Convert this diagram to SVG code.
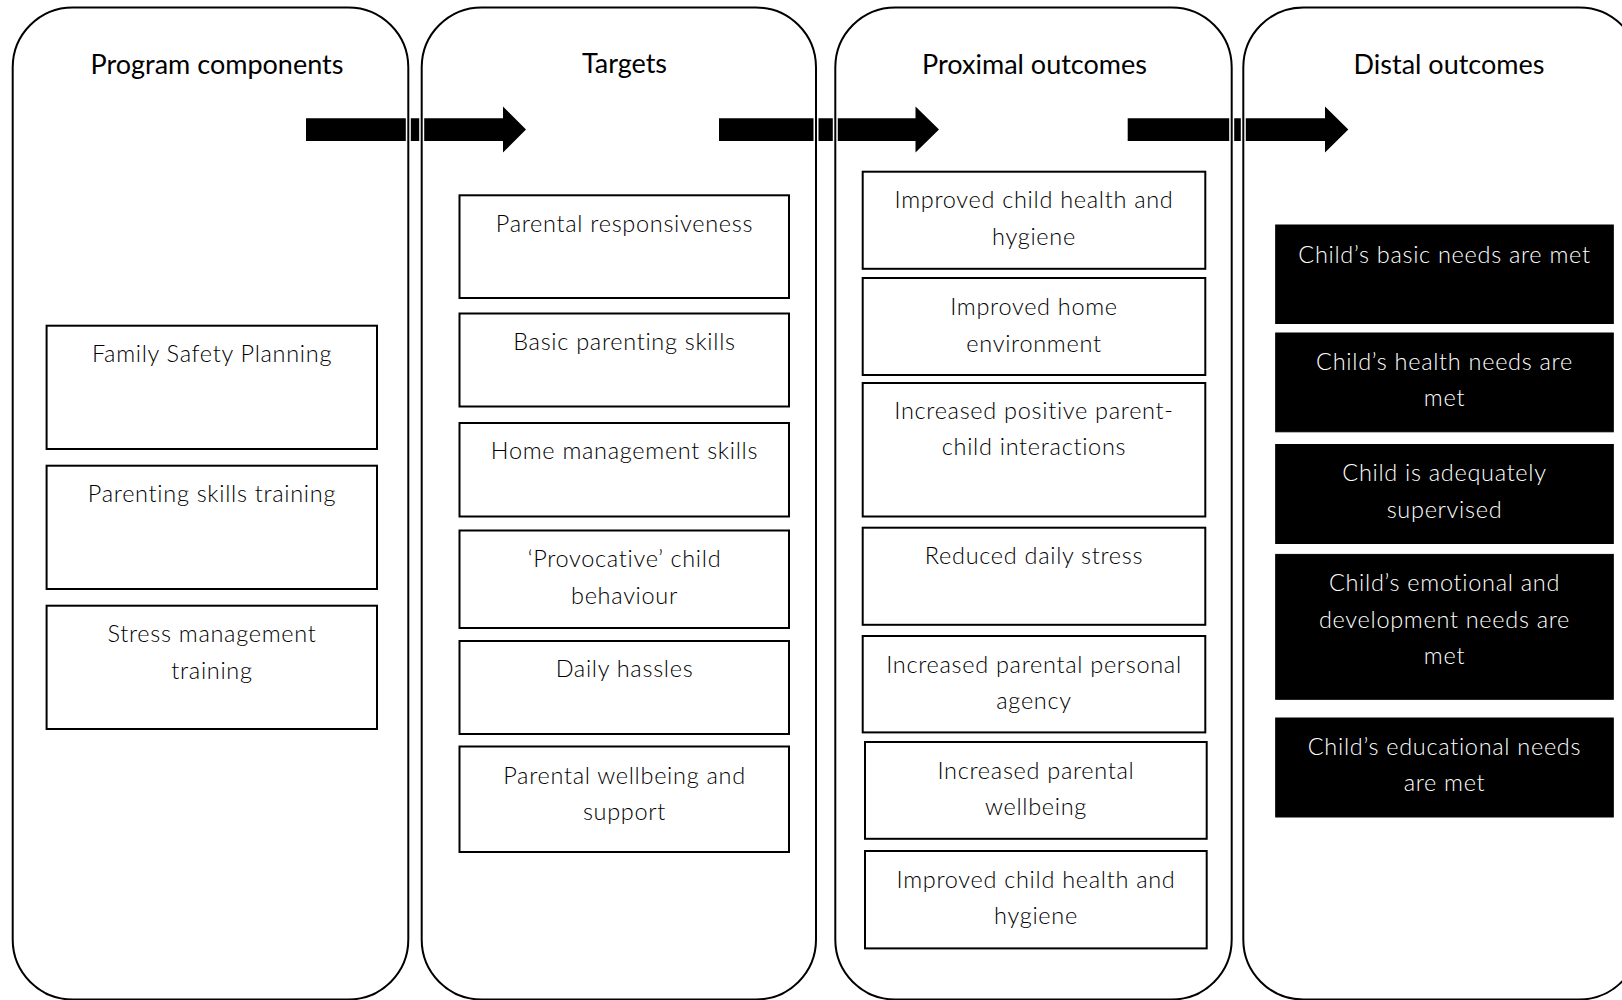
<svg xmlns="http://www.w3.org/2000/svg" width="1622" height="1000" viewBox="0 0 1622 1000">
<defs>
<style>
.bg{fill:#ffffff}
.arrow{fill:#000000;stroke:none}
.colhalo{fill:none;stroke:#ffffff;stroke-width:5}
.col{fill:none;stroke:#000000;stroke-width:2}
.box{fill:#ffffff;stroke:#000000;stroke-width:2}
.dbox{fill:#000000;stroke:#000000;stroke-width:1}
.title{font-family:Lato,"Liberation Sans",sans-serif;font-size:27px;font-weight:400;fill:#000000;text-anchor:middle}
.t{font-family:Lato,"Liberation Sans",sans-serif;font-size:23.5px;font-weight:300;letter-spacing:0.7px;fill:#000000;text-anchor:middle}
.tw{font-family:Lato,"Liberation Sans",sans-serif;font-size:23.5px;font-weight:300;letter-spacing:0.7px;fill:#ffffff;text-anchor:middle}
</style>
</defs>
<rect class="bg" x="0" y="0" width="1622" height="1000"/>

<g id="connectors">
  <polygon class="arrow" points="306,118.3 503,118.3 503,106.5 526,129.5 503,152.5 503,141 306,141"/>
  <polygon class="arrow" points="719,118.3 915.5,118.3 915.5,106.5 939,129.5 915.5,152.5 915.5,141 719,141"/>
  <polygon class="arrow" points="1127.7,118.3 1325,118.3 1325,106.5 1348.3,129.5 1325,152.5 1325,141 1127.7,141"/>
</g>

<g id="col-program">
  <rect class="colhalo" x="12.7" y="7.5" width="395.6" height="992" rx="60" ry="60"/>
  <rect class="col" x="12.7" y="7.5" width="395.6" height="992" rx="60" ry="60"/>
  <text class="title" x="217" y="74">Program components</text>
</g>
<g id="col-targets">
  <rect class="colhalo" x="421.7" y="7.5" width="394.3" height="992" rx="60" ry="60"/>
  <rect class="col" x="421.7" y="7.5" width="394.3" height="992" rx="60" ry="60"/>
  <text class="title" x="624.5" y="73">Targets</text>
</g>
<g id="col-proximal">
  <rect class="colhalo" x="835.3" y="7.5" width="396.4" height="992" rx="60" ry="60"/>
  <rect class="col" x="835.3" y="7.5" width="396.4" height="992" rx="60" ry="60"/>
  <text class="title" x="1034.5" y="74">Proximal outcomes</text>
</g>
<g id="col-distal">
  <rect class="colhalo" x="1243.3" y="7.5" width="396" height="992" rx="60" ry="60"/>
  <rect class="col" x="1243.3" y="7.5" width="396" height="992" rx="60" ry="60"/>
  <text class="title" x="1449" y="74">Distal outcomes</text>
</g>

<g id="pc-family-safety">
  <rect class="box" x="46.6" y="325.7" width="330.4" height="123.3"/>
  <text class="t" x="212" y="362.3">Family Safety Planning</text>
</g>
<g id="pc-parenting-skills">
  <rect class="box" x="46.6" y="465.7" width="330.4" height="123.3"/>
  <text class="t" x="212" y="501.7">Parenting skills training</text>
</g>
<g id="pc-stress">
  <rect class="box" x="46.6" y="605.7" width="330.4" height="123.3"/>
  <text class="t" x="212" y="641.7">Stress management</text>
  <text class="t" x="212" y="678.5">training</text>
</g>

<g id="tg-responsiveness">
  <rect class="box" x="459.5" y="195.3" width="329.5" height="102.7"/>
  <text class="t" x="624.5" y="232">Parental responsiveness</text>
</g>
<g id="tg-basic-parenting">
  <rect class="box" x="459.5" y="313.5" width="329.5" height="93"/>
  <text class="t" x="624.5" y="349.5">Basic parenting skills</text>
</g>
<g id="tg-home-management">
  <rect class="box" x="459.5" y="423" width="329.5" height="93.5"/>
  <text class="t" x="624.5" y="459">Home management skills</text>
</g>
<g id="tg-provocative">
  <rect class="box" x="459.5" y="530.5" width="329.5" height="97.5"/>
  <text class="t" x="624.5" y="567">‘Provocative’ child</text>
  <text class="t" x="624.5" y="603.5">behaviour</text>
</g>
<g id="tg-daily-hassles">
  <rect class="box" x="459.5" y="641" width="329.5" height="93"/>
  <text class="t" x="624.5" y="676.5">Daily hassles</text>
</g>
<g id="tg-wellbeing-support">
  <rect class="box" x="459.5" y="746.5" width="329.5" height="105.5"/>
  <text class="t" x="624.5" y="783.5">Parental wellbeing and</text>
  <text class="t" x="624.5" y="820">support</text>
</g>

<g id="px-health-hygiene-1">
  <rect class="box" x="862.7" y="171.7" width="342.6" height="97.1"/>
  <text class="t" x="1034" y="208.3">Improved child health and</text>
  <text class="t" x="1034" y="244.8">hygiene</text>
</g>
<g id="px-home-environment">
  <rect class="box" x="862.7" y="278" width="342.6" height="97"/>
  <text class="t" x="1034" y="315">Improved home</text>
  <text class="t" x="1034" y="351.5">environment</text>
</g>
<g id="px-parent-child">
  <rect class="box" x="862.7" y="383" width="342.6" height="133.5"/>
  <text class="t" x="1034" y="418.5">Increased positive parent-</text>
  <text class="t" x="1034" y="455">child interactions</text>
</g>
<g id="px-daily-stress">
  <rect class="box" x="862.7" y="527.7" width="342.6" height="97.1"/>
  <text class="t" x="1034" y="564.3">Reduced daily stress</text>
</g>
<g id="px-personal-agency">
  <rect class="box" x="862.7" y="636" width="342.6" height="96.4"/>
  <text class="t" x="1034" y="672.5">Increased parental personal</text>
  <text class="t" x="1034" y="709">agency</text>
</g>
<g id="px-parental-wellbeing">
  <rect class="box" x="865" y="742" width="341.7" height="96.8"/>
  <text class="t" x="1036" y="778.5">Increased parental</text>
  <text class="t" x="1036" y="815">wellbeing</text>
</g>
<g id="px-health-hygiene-2">
  <rect class="box" x="865" y="851" width="341.7" height="97.4"/>
  <text class="t" x="1036" y="887.5">Improved child health and</text>
  <text class="t" x="1036" y="924">hygiene</text>
</g>

<g id="ds-basic-needs">
  <rect class="dbox" x="1275.7" y="225" width="337.6" height="98.5"/>
  <text class="tw" x="1444.5" y="262.5">Child’s basic needs are met</text>
</g>
<g id="ds-health-needs">
  <rect class="dbox" x="1275.7" y="333" width="337.6" height="98.8"/>
  <text class="tw" x="1444.5" y="369.5">Child’s health needs are</text>
  <text class="tw" x="1444.5" y="406">met</text>
</g>
<g id="ds-supervised">
  <rect class="dbox" x="1275.7" y="444.5" width="337.6" height="99"/>
  <text class="tw" x="1444.5" y="481">Child is adequately</text>
  <text class="tw" x="1444.5" y="517.5">supervised</text>
</g>
<g id="ds-emotional">
  <rect class="dbox" x="1275.7" y="554.4" width="337.6" height="144.9"/>
  <text class="tw" x="1444.5" y="591">Child’s emotional and</text>
  <text class="tw" x="1444.5" y="627.5">development needs are</text>
  <text class="tw" x="1444.5" y="664">met</text>
</g>
<g id="ds-educational">
  <rect class="dbox" x="1275.7" y="718" width="337.6" height="99"/>
  <text class="tw" x="1444.5" y="754.5">Child’s educational needs</text>
  <text class="tw" x="1444.5" y="791">are met</text>
</g>
</svg>
